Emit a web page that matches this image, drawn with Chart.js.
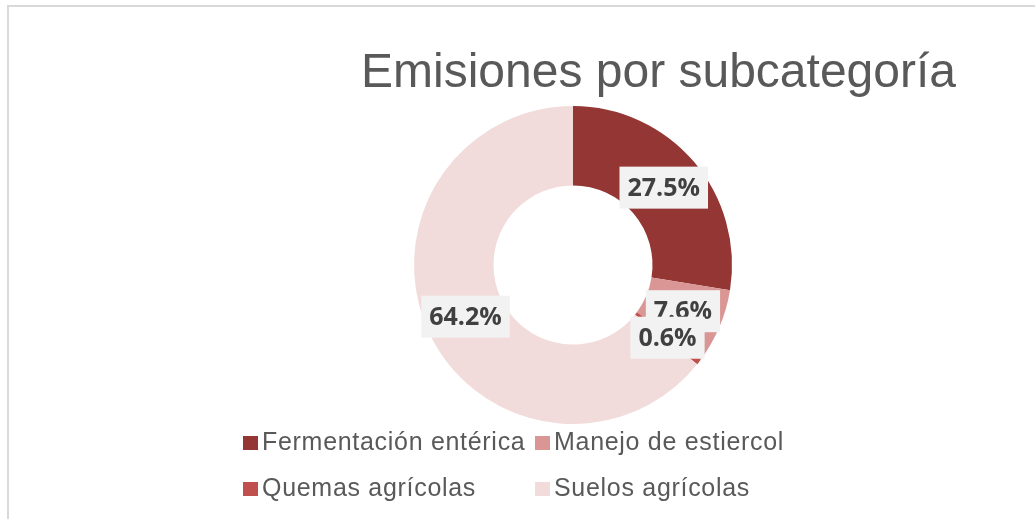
<!DOCTYPE html>
<html>
<head>
<meta charset="utf-8">
<script src="https://cdn.jsdelivr.net/npm/chart.js@4.4.1/dist/chart.umd.min.js"></script>
<style>
    body { margin: 0; background: #fff; }
    #wrap { position: relative; width: 1035px; height: 519px; overflow: hidden; }
    #frame { position: absolute; left: 7px; top: 5px; width: 1100px; height: 600px;
             border-left: 2px solid #d9d9d9; border-top: 2px solid #d9d9d9; }
    #emis_chart { position: absolute; left: 0; top: 0; }
    #title { position: absolute; left: 361px; top: 47px; font: 48px "Liberation Sans", Arial, sans-serif;
             line-height: 48px; color: #595959; white-space: nowrap; }
    #legend { position: absolute; left: 243px; top: 429px; display: grid;
              grid-template-columns: 292px auto; grid-auto-rows: 46px;
              font: 25px "Liberation Sans", Arial, sans-serif; line-height: 25px;
              letter-spacing: 0.7px; color: #595959; white-space: nowrap; }
    #legend .sw { display: inline-block; width: 15px; height: 14px; margin-right: 4px; }
</style>
</head>
<body>
<div id="wrap">
    <div id="frame"></div>
    <canvas id="emis_chart" width="1035" height="519"></canvas>
    <div id="title">Emisiones por subcategoría</div>
    <div id="legend"></div>
</div>
<script>
const subcategorias = ['Fermentación entérica', 'Manejo de estiercol', 'Quemas agrícolas', 'Suelos agrícolas'];
const porcentajes = [27.5, 7.6, 0.6, 64.2];
const colores = ['#943634', '#d99694', '#c0504d', '#f2dcdb'];

// labels in grey boxes at the middle of each slice
const boxLabels = {
    id: 'boxLabels',
    afterDatasetsDraw(chart) {
        var ctx = chart.ctx;
        var meta = chart.getDatasetMeta(0);
        ctx.save();
        ctx.font = 'bold 25px "Open Sans", sans-serif';
        ctx.textAlign = 'center';
        ctx.textBaseline = 'middle';
        meta.data.forEach(function (arc, i) {
            var pos = arc.tooltipPosition();
            var txt = chart.data.datasets[0].data[i].toFixed(1) + '%';
            var w = ctx.measureText(txt).width + 16;
            var h = 42;
            ctx.fillStyle = '#f2f2f2';
            ctx.fillRect(pos.x - w / 2, pos.y - h / 2, w, h);
            ctx.fillStyle = '#404040';
            ctx.fillText(txt, pos.x, pos.y + 1);
        });
        ctx.restore();
    }
};

var canvas = document.getElementById('emis_chart');
var chart = new Chart(canvas, {
    type: 'doughnut',
    data: {
        labels: subcategorias,
        datasets: [{
            data: porcentajes,
            backgroundColor: colores,
            borderWidth: 0,
        }]
    },
    options: {
        responsive: false,
        animation: false,
        cutout: '50%',
        layout: { padding: { left: 414, right: 303, top: 106, bottom: 95 } },
        plugins: {
            legend: { display: false },
            tooltip: { enabled: false },
        }
    },
    plugins: [boxLabels]
});

// html legend from the chart data
var legend = document.getElementById('legend');
chart.data.labels.forEach(function (lab, i) {
    var item = document.createElement('div');
    var sw = document.createElement('span');
    sw.className = 'sw';
    sw.style.background = chart.data.datasets[0].backgroundColor[i];
    item.appendChild(sw);
    item.appendChild(document.createTextNode(lab));
    legend.appendChild(item);
});
</script>
</body>
</html>
